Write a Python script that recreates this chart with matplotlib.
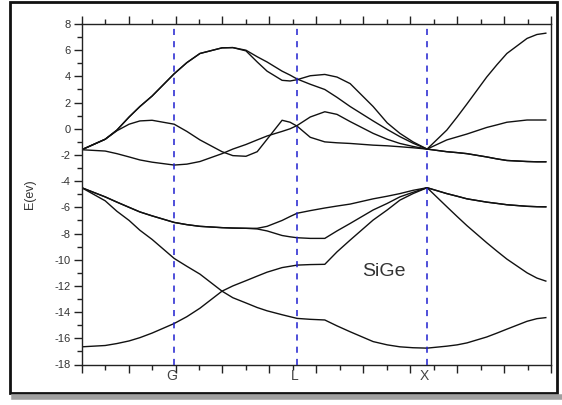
import matplotlib
matplotlib.use("Agg")
import matplotlib.pyplot as plt
from matplotlib.patches import Rectangle
from matplotlib.lines import Line2D
from matplotlib.ticker import MultipleLocator
import matplotlib.transforms as mtransforms

plt.rcParams['font.family'] = ['Liberation Sans', 'DejaVu Sans']
plt.rcParams['axes.unicode_minus'] = False

# wave-vector positions along the path (axis units 0..10)
k = [0, 0.5, 0.75, 1.01, 1.24, 1.5, 1.97, 2.24, 2.52, 2.99, 3.22, 3.5, 3.74, 3.95,
     4.27, 4.44, 4.59, 4.87, 5.18, 5.44, 5.72, 6.21, 6.51, 6.78, 7.06, 7.36,
     7.78, 8.0, 8.21, 8.63, 8.85, 9.06, 9.49, 9.7, 9.89]

# symmetry points
sym_pos = [1.97, 4.59, 7.36]
sym_labels = ['G', 'L', 'X']

# energy bands E(k) in eV
band_a = [-1.6, -0.8, -0.1, 0.9, 1.7, 2.5, 4.2, 5.05, 5.75, 6.18, 6.2, 6.0, 5.5, 5.1,
          4.4, 4.1, 3.8, 3.4, 3.0, 2.4, 1.7, 0.6, -0.05, -0.6, -1.1, -1.55,
          -0.1, 0.9, 1.9, 3.95, 4.9, 5.75, 6.9, 7.2, 7.3]
band_b = [-1.6, -0.8, -0.1, 0.9, 1.7, 2.5, 4.2, 5.05, 5.75, 6.18, 6.2, 5.95, 5.1, 4.4,
          3.7, 3.65, 3.75, 4.05, 4.15, 3.95, 3.45, 1.7, 0.45, -0.35, -1.0, -1.55,
          -0.85, -0.62, -0.4, 0.1, 0.3, 0.5, 0.67, 0.67, 0.67]
band_c = [-1.6, -0.8, -0.15, 0.35, 0.6, 0.65, 0.35, -0.2, -0.85, -1.75, -2.05, -2.1, -1.75, -0.8,
          0.65, 0.5, 0.2, -0.65, -1.0, -1.07, -1.12, -1.25, -1.3, -1.37, -1.45, -1.55,
          -1.75, -1.82, -1.9, -2.15, -2.3, -2.42, -2.5, -2.52, -2.52]
band_d = [-1.6, -1.7, -1.9, -2.15, -2.38, -2.55, -2.77, -2.7, -2.5, -1.9, -1.55, -1.2, -0.85, -0.55,
          -0.2, 0.0, 0.25, 0.9, 1.3, 1.1, 0.55, -0.35, -0.8, -1.12, -1.35, -1.55,
          -1.75, -1.82, -1.9, -2.15, -2.3, -2.42, -2.5, -2.52, -2.52]
band_e = [-4.5, -5.2, -5.6, -6.0, -6.35, -6.65, -7.15, -7.32, -7.45, -7.55, -7.58, -7.6, -7.6, -7.45,
          -7.0, -6.7, -6.45, -6.25, -6.05, -5.9, -5.75, -5.35, -5.15, -4.95, -4.7, -4.5,
          -4.95, -5.15, -5.35, -5.6, -5.7, -5.8, -5.92, -5.95, -5.96]
band_f = [-4.5, -5.2, -5.6, -6.0, -6.35, -6.65, -7.15, -7.32, -7.45, -7.55, -7.58, -7.6, -7.65, -7.8,
          -8.15, -8.25, -8.32, -8.37, -8.37, -7.8, -7.23, -6.2, -5.7, -5.2, -4.85, -4.5,
          -4.95, -5.15, -5.35, -5.6, -5.7, -5.8, -5.92, -5.95, -5.96]
band_g = [-4.5, -5.5, -6.3, -7.0, -7.75, -8.45, -9.9, -10.5, -11.1, -12.4, -12.9, -13.3, -13.65, -13.9,
          -14.2, -14.35, -14.48, -14.55, -14.6, -15.05, -15.5, -16.25, -16.5, -16.65, -16.72, -16.75,
          -16.6, -16.5, -16.35, -15.9, -15.6, -15.3, -14.7, -14.5, -14.42]
band_h = [-16.65, -16.55, -16.4, -16.2, -15.95, -15.6, -14.87, -14.35, -13.7, -12.4, -12.0, -11.6, -11.25, -10.95,
          -10.6, -10.5, -10.41, -10.37, -10.35, -9.4, -8.5, -6.97, -6.2, -5.45, -4.95, -4.5,
          -5.95, -6.7, -7.4, -8.7, -9.35, -9.95, -11.0, -11.4, -11.63]

bands = [band_a, band_b, band_c, band_d, band_e, band_f, band_g, band_h]

fig = plt.figure(figsize=(5.62, 4.05), dpi=100)
ax = fig.add_axes([0.1454, 0.1, 0.835, 0.8407])

for e in bands:
    ax.plot(k, e, color='#111111', lw=1.0)

for xp in sym_pos:
    ax.axvline(xp, color='#1f1fd0', lw=1.1, ls=(0, (4, 4)), zorder=3)

ax.set_xlim(0, 10)
ax.set_ylim(-18, 8)
ax.xaxis.set_major_locator(MultipleLocator(1))
ax.xaxis.set_minor_locator(MultipleLocator(0.5))
ax.yaxis.set_major_locator(MultipleLocator(2))
ax.yaxis.set_minor_locator(MultipleLocator(1))
ax.tick_params(which='both', direction='out', top=True, right=False,
               color='#222222', width=1.0)
ax.tick_params(which='major', length=6)
ax.tick_params(which='minor', length=3.5)
ax.tick_params(axis='x', labelbottom=False)
ax.tick_params(axis='y', labelsize=8, labelcolor='#333333', pad=2)
for s in ax.spines.values():
    s.set_linewidth(1.0)
    s.set_color('#222222')

ax.set_ylabel('E(ev)', fontsize=9, color='#333333', labelpad=13)

trans = mtransforms.blended_transform_factory(ax.transData, ax.transAxes)
for xp, lab in zip(sym_pos, sym_labels):
    ax.text(xp - 0.05, -0.012, lab, transform=trans, ha='center', va='top',
            fontsize=10, color='#444444')

ax.text(6.44, -10.87, 'SiGe', fontsize=14, color='#333333', ha='center', va='center')

# outer frame with a soft shadow
fig.lines.append(Line2D([14 / 562, 1.0], [1 - 397 / 405] * 2, transform=fig.transFigure,
                        color='#a0a0a0', lw=4))
fig.patches.append(Rectangle((10 / 562, 1 - 393 / 405), 547 / 562, 391 / 405,
                             transform=fig.transFigure, fill=False, ec='#111111', lw=2))

fig.savefig('out.png', dpi=100)
